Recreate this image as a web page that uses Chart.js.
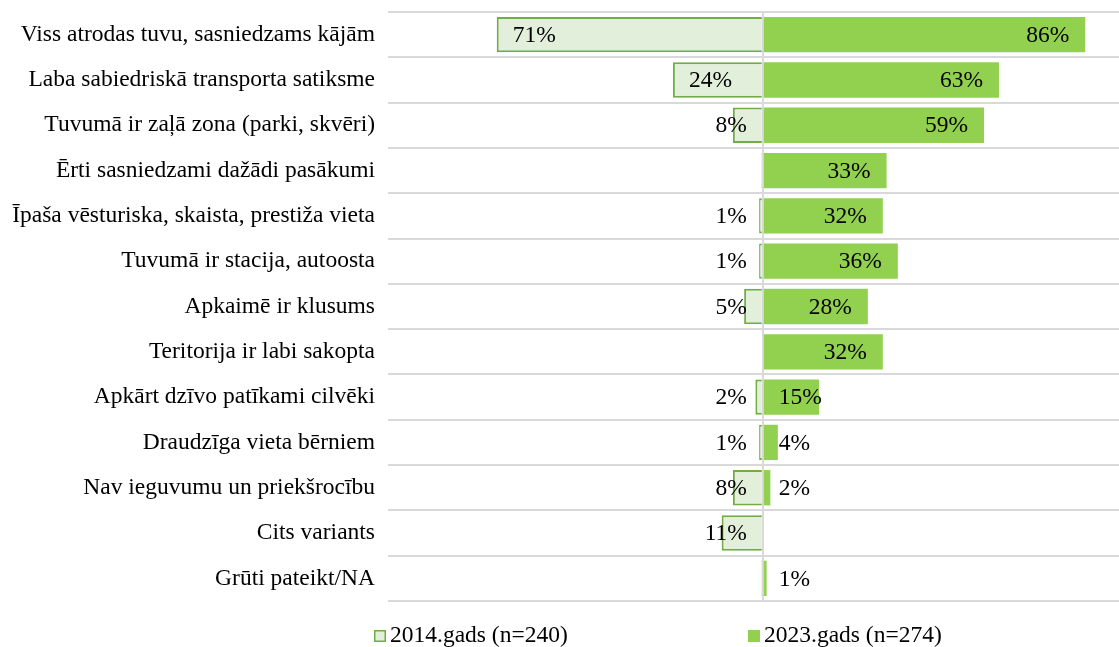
<!DOCTYPE html>
<html>
<head>
<meta charset="utf-8">
<script src="https://cdn.jsdelivr.net/npm/chart.js@4"></script>
<style>
  html, body { margin: 0; padding: 0; background: #fff; }
  #wrap { width: 1119px; height: 647px; position: relative; }
</style>
</head>
<body>
<div id="wrap"><canvas id="chart"></canvas></div>
<script>
// ---------- DATA ----------
const categories = [
  "Viss atrodas tuvu, sasniedzams kājām",
  "Laba sabiedriskā transporta satiksme",
  "Tuvumā ir zaļā zona (parki, skvēri)",
  "Ērti sasniedzami dažādi pasākumi",
  "Īpaša vēsturiska, skaista, prestiža vieta",
  "Tuvumā ir stacija, autoosta",
  "Apkaimē ir klusums",
  "Teritorija ir labi sakopta",
  "Apkārt dzīvo patīkami cilvēki",
  "Draudzīga vieta bērniem",
  "Nav ieguvumu un priekšrocību",
  "Cits variants",
  "Grūti pateikt/NA"
];
const values2014 = [71, 24, 8, 0.4, 1, 1, 5, null, 2, 1, 8, 11, 0.4];
const values2023 = [86, 63, 59, 33, 32, 36, 28, 32, 15, 4, 2, null, 1];
const seriesNames = ["2014.gads (n=240)", "2023.gads (n=274)"];

const FONT = "'Liberation Serif', 'Times New Roman', serif";

// ---------- LABELS & LEGEND ----------
const labelPlugin = {
  id: "valueLabels",
  afterDatasetsDraw(chart) {
    const ctx = chart.ctx;
    const zero = chart.scales.x.getPixelForValue(0);
    ctx.save();
    ctx.font = "23.5px " + FONT;
    ctx.fillStyle = "#000";
    ctx.textBaseline = "middle";
    chart.data.datasets.forEach((ds, di) => {
      const meta = chart.getDatasetMeta(di);
      meta.data.forEach((bar, i) => {
        const v = ds.data[i];
        if (v == null || Math.abs(v) < 1) return;
        const txt = Math.round(Math.abs(v)) + "%";
        const w = ctx.measureText(txt).width;
        let x;
        if (v < 0) {
          x = Math.min(bar.x + 16, zero - 16 - w);
        } else {
          x = Math.max(bar.x - 16 - w, zero + 16);
        }
        ctx.textAlign = "left";
        ctx.fillText(txt, x, bar.y + 1);
      });
    });
    ctx.restore();
  }
};

const legendPlugin = {
  id: "bottomLegend",
  afterDraw(chart) {
    const ctx = chart.ctx;
    const xs = [374, 748];
    const y = 636;
    ctx.save();
    ctx.font = "23.5px " + FONT;
    ctx.textBaseline = "middle";
    chart.data.datasets.forEach((ds, i) => {
      ctx.fillStyle = ds.backgroundColor;
      ctx.fillRect(xs[i], y - 6, 12, 12);
      if (ds.borderWidth) {
        ctx.strokeStyle = ds.borderColor;
        ctx.lineWidth = 1.5;
        ctx.strokeRect(xs[i] + 0.75, y - 5.25, 10.5, 10.5);
      }
      ctx.fillStyle = "#000";
      ctx.textAlign = "left";
      ctx.fillText(ds.label, xs[i] + 16, y);
    });
    ctx.restore();
  }
};

// ---------- CHART ----------
new Chart(document.getElementById("chart"), {
  type: "bar",
  data: {
    labels: categories,
    datasets: [
      {
        label: seriesNames[0],
        data: values2014.map(v => v == null ? null : -v),
        backgroundColor: "#E2EFDA",
        borderColor: "#70AD47",
        borderWidth: 2,
        barPercentage: 0.78,
        categoryPercentage: 1
      },
      {
        label: seriesNames[1],
        data: values2023,
        backgroundColor: "#92D050",
        borderWidth: 0,
        barPercentage: 0.78,
        categoryPercentage: 1
      }
    ]
  },
  options: {
    indexAxis: "y",
    responsive: true,
    maintainAspectRatio: false,
    animation: false,
    layout: { padding: { top: 12, bottom: 46, left: 0, right: 0 } },
    plugins: {
      legend: { display: false },
      tooltip: { enabled: false },
      title: { display: false }
    },
    scales: {
      x: {
        stacked: true,
        min: -100,
        max: 95,
        z: 1,
        border: { display: false },
        ticks: { display: false },
        grid: {
          drawTicks: false,
          lineWidth: 2,
          color: c => c.tick && c.tick.value === 0 ? "#D9D9D9" : "rgba(0,0,0,0)"
        }
      },
      y: {
        stacked: true,
        border: { display: false },
        afterFit(scale) {
          scale.width = 388;
          scale.paddingTop = 0;
          scale.paddingBottom = 0;
        },
        ticks: {
          color: "#000",
          font: { family: FONT, size: 23.5 },
          padding: 13
        },
        grid: {
          offset: true,
          drawTicks: false,
          lineWidth: 2,
          color: "#D9D9D9"
        }
      }
    }
  },
  plugins: [labelPlugin, legendPlugin]
});
</script>
</body>
</html>
